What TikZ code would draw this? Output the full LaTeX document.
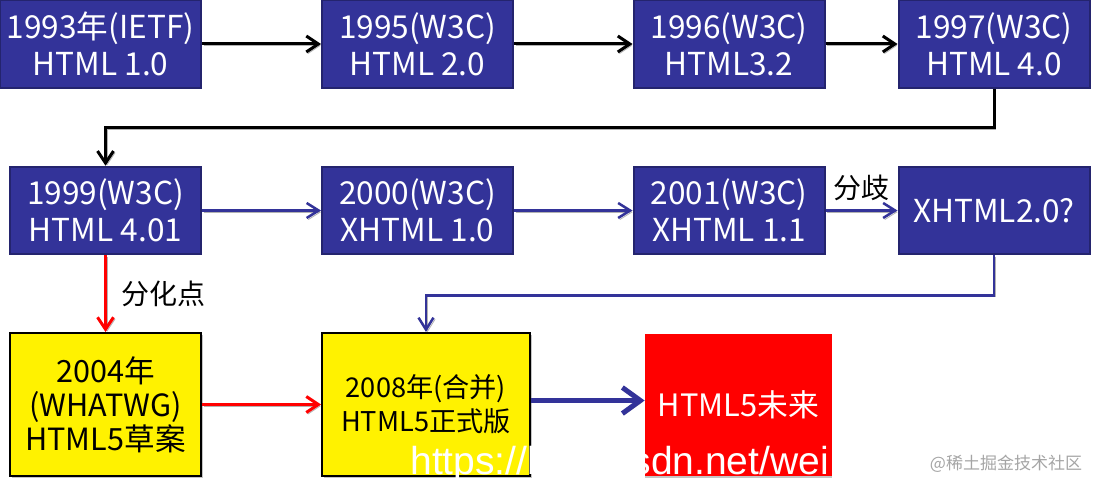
\documentclass[tikz,border=0pt]{standalone}
\usepackage{fontspec}
\setmainfont{Noto Sans CJK SC}
\newfontfamily\urlfont{Liberation Sans}
\usetikzlibrary{arrows.meta,shadows}
\definecolor{w3blue}{RGB}{51,51,153}
\definecolor{w3border}{RGB}{36,36,110}
\definecolor{markgray}{RGB}{165,165,165}
\colorlet{linkshadow}{black!30}

\tikzset{
    shadowed/.style={preaction={draw=linkshadow, transform canvas={shift={(0.8pt,-0.8pt)}}}},
    verbox/.style={draw=w3border, line width=1pt, fill=w3blue, text=white, align=center, inner sep=0pt,
        minimum width=95.5pt, minimum height=43.75pt, font=\fontsize{15.8}{18.5}\selectfont},
    draftbox/.style={draw=black, line width=1pt, fill=yellow, align=center, inner sep=0pt,
        minimum height=71.5pt, drop shadow={shadow xshift=1pt, shadow yshift=-1pt, fill=black!45}},
    futbox/.style={fill=red, text=white, inner sep=0pt, minimum width=93.5pt, minimum height=71pt,
        font=\fontsize{15.4}{18}\selectfont, drop shadow={shadow xshift=0pt, shadow yshift=-1pt, fill=black!45}},
    lbl/.style={inner sep=1pt, font=\fontsize{14}{15}\selectfont},
    oldline/.style={draw=black, line width=1.5pt, -{Straight Barb[length=6pt, width=8pt]}, shadowed},
    w3line/.style={draw=w3blue, line width=1.25pt, -{Straight Barb[length=6pt, width=7.5pt]}, shadowed},
    forkline/.style={draw=red, line width=1.5pt, -{Straight Barb[length=6pt, width=8pt]}, shadowed},
    nextline/.style={draw=w3blue, line width=2.5pt, -{Straight Barb[length=9pt, width=13pt]}, shadowed}
}

\begin{document}
\begin{tikzpicture}[x=0.5pt, y=-0.5pt]

    \useasboundingbox (0,0) rectangle (1093,481);

    \node[verbox, minimum width=100.5pt] (v1993) at (100.5,44) {1993年(IETF)\\HTML 1.0};
    \node[verbox] (v1995) at (417.5,44) {1995(W3C)\\HTML 2.0};
    \node[verbox] (v1996) at (729,44) {1996(W3C)\\HTML3.2};
    \node[verbox] (v1997) at (994,44) {1997(W3C)\\HTML 4.0};

    \node[verbox] (v1999) at (105.5,210.5) {1999(W3C)\\HTML 4.01};
    \node[verbox] (v2000) at (417.5,210.5) {2000(W3C)\\XHTML 1.0};
    \node[verbox] (v2001) at (729,210.5) {2001(W3C)\\XHTML 1.1};
    \node[verbox] (vx2) at (994,210.5) {XHTML2.0?};

    \node[draftbox, minimum width=95.5pt, font=\fontsize{15.3}{17}\selectfont] (w2004) at (105.5,404.5) {2004年\\(WHATWG)\\HTML5草案};
    \node[draftbox, minimum width=104pt, font=\fontsize{13.6}{17}\selectfont] (w2008) at (426,404.5) {2008年(合并)\\HTML5正式版};
    \node[futbox] (future) at (738.5,404.5) {HTML5未来};

    \draw[oldline] (v1993) -- (v1995);
    \draw[oldline] (v1995) -- (v1996);
    \draw[oldline] (v1996) -- (v1997);
    \draw[oldline] (v1997.south) -- ++(0,39) -| (v1999.north);

    \draw[w3line] (v1999) -- (v2000);
    \draw[w3line] (v2000) -- (v2001);
    \draw[w3line] (v2001) -- node[lbl, above=3pt] (fenqi) {分歧} (vx2);
    \draw[w3line] (vx2.south) -- ++(0,40) -| (w2008.north);

    \draw[forkline] (v1999) -- node[lbl, right=6pt] (fenhua) {分化点} (w2004);
    \draw[forkline] (w2004) -- (w2008);
    \draw[nextline] ([yshift=2pt]w2008.east) -- ([yshift=2pt]future.west);

    % watermarks
    \node[anchor=base west, inner sep=0pt, text=white, font=\urlfont\fontsize{19.5}{20}\selectfont] (csdn) at (410,474) {https://blog.csdn.net/wei};
    \node[anchor=center, inner sep=0pt, text=markgray, font=\fontsize{8.5}{9}\selectfont] (juejin) at (1006,464) {@稀土掘金技术社区};

\end{tikzpicture}
\end{document}
